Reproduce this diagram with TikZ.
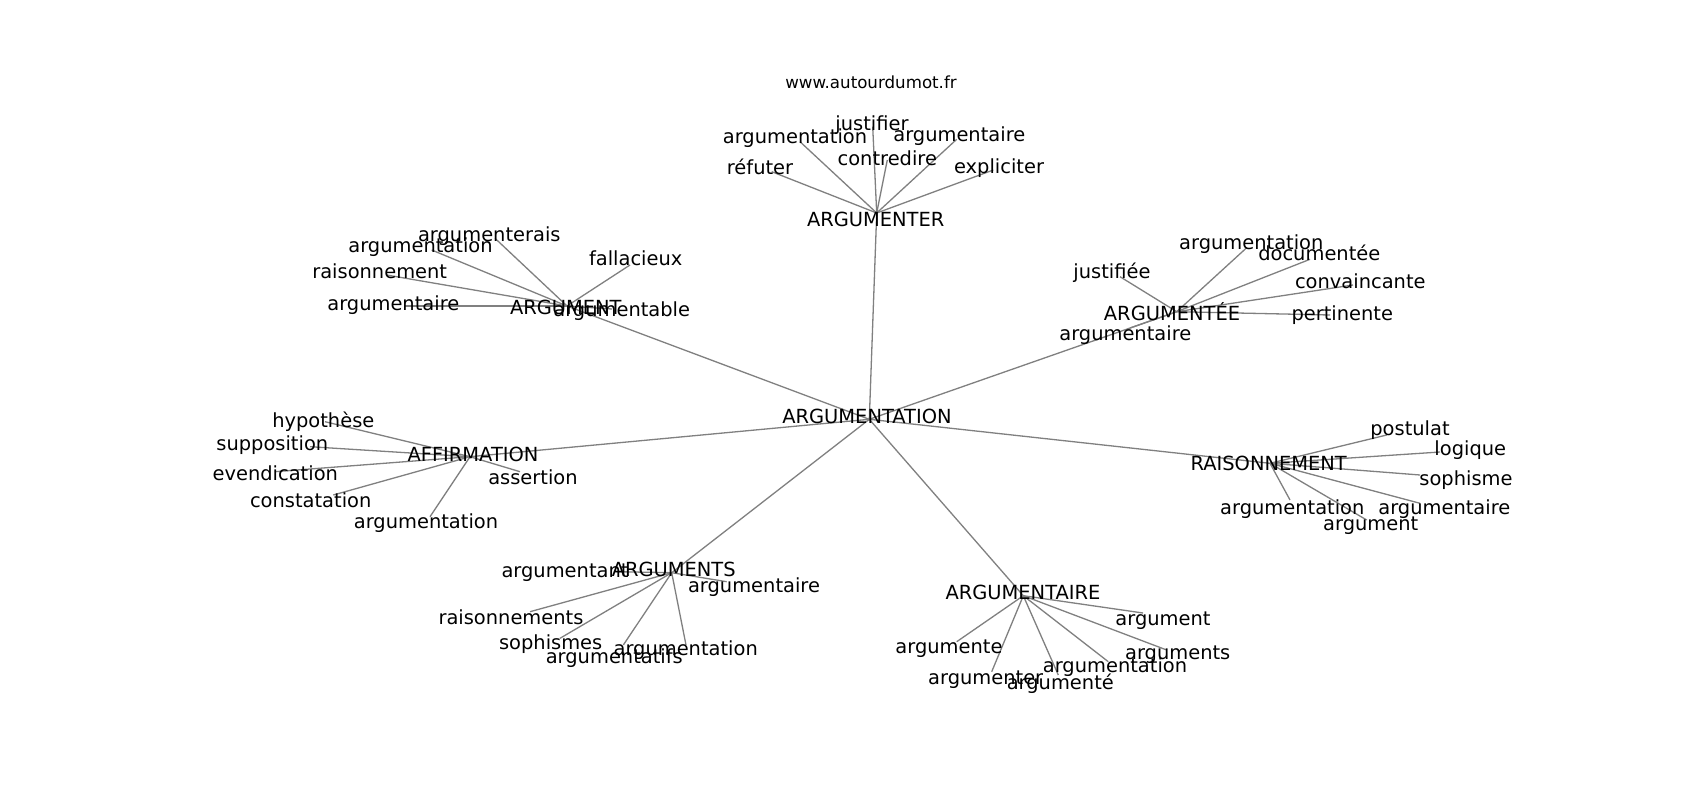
\documentclass[tikz,border=0pt]{standalone}
\usepackage{fontspec}
\setmainfont{DejaVu Sans}
\usetikzlibrary{backgrounds}
\definecolor{edgegray}{RGB}{128,128,128}
\tikzset{
  lbl/.style={inner sep=0pt, anchor=center, text height=0.73em, text depth=0pt,
              yshift=-4pt, font=\fontsize{19.44}{23}\selectfont},
  ttl/.style={inner sep=0pt, anchor=base, font=\fontsize{16.67}{20}\selectfont},
  edge/.style={draw=edgegray, line width=1.3pt}
}
\newcommand{\leafword}[7]{%
  \coordinate (#1) at (#2,#3);
  \node[lbl] (#1t) at (#4,#5) {#6};
  \begin{pgfonlayer}{background}\draw[edge] (#7) -- (#1);\end{pgfonlayer}
}
\begin{document}
\begin{tikzpicture}[x=1pt,y=-1pt]
\useasboundingbox (0,0) rectangle (1700,800);
\begin{pgfonlayer}{background}
\fill[white] (0,0) rectangle (1700,800);
\end{pgfonlayer}

\node[ttl] (title) at (871,88.3) {www.autourdumot.fr};

% hubs
\coordinate (H0) at (869.3,419.3);
\node[lbl] (H0t) at (867,416) {ARGUMENTATION};
\leafword{H1}{876.7}{213}{875.7}{219.3}{ARGUMENTER}{H0}
\leafword{H2}{567}{306}{565.8}{307.3}{ARGUMENT}{H0}
\leafword{H3}{1176.7}{311.7}{1172}{313.3}{ARGUMENTÉE}{H0}
\leafword{H4}{470}{456.7}{473}{454.3}{AFFIRMATION}{H0}
\leafword{H5}{1270}{463.3}{1268.7}{462.7}{RAISONNEMENT}{H0}
\leafword{H6}{671.7}{572.7}{673.7}{569.3}{ARGUMENTS}{H0}
\leafword{H7}{1023.3}{595.7}{1023}{591.7}{ARGUMENTAIRE}{H0}

% ARGUMENTER
\leafword{a1}{872.7}{126.7}{872}{123.3}{justifier}{H1}
\leafword{a2}{800}{141.7}{795}{136}{argumentation}{H1}
\leafword{a3}{956.7}{139.3}{959.3}{134}{argumentaire}{H1}
\leafword{a4}{887.3}{160}{887.3}{158.3}{contredire}{H1}
\leafword{a5}{771.7}{171.7}{760}{166.7}{réfuter}{H1}
\leafword{a6}{993.3}{170}{999}{166}{expliciter}{H1}

% ARGUMENT
\leafword{b1}{495}{238.3}{489.3}{234.3}{argumenterais}{H2}
\leafword{b2}{431.7}{250}{420.5}{245}{argumentation}{H2}
\leafword{b3}{386.7}{275}{379.7}{271}{raisonnement}{H2}
\leafword{b4}{405}{306}{393.3}{303.3}{argumentaire}{H2}
\leafword{b5}{630}{265}{635.7}{258.3}{fallacieux}{H2}
\leafword{b6}{612}{309}{621.7}{309.3}{argumentable}{H2}

% ARGUMENTEE
\leafword{c1}{1246.7}{247.7}{1251.3}{241.7}{argumentation}{H3}
\leafword{c2}{1310}{259.3}{1319.3}{253.3}{documentée}{H3}
\leafword{c3}{1120}{276.7}{1112}{270.7}{justifiée}{H3}
\leafword{c4}{1353}{285}{1360.3}{281.3}{convaincante}{H3}
\leafword{c5}{1330}{315}{1342.3}{312.7}{pertinente}{H3}
\leafword{c6}{1130}{328}{1125.3}{333.3}{argumentaire}{H3}

% AFFIRMATION
\leafword{d1}{325}{421.7}{323.3}{420}{hypothèse}{H4}
\leafword{d2}{310}{446.7}{272.3}{443.3}{supposition}{H4}
\leafword{d3}{275}{471.7}{275.3}{473.3}{evendication}{H4}
\leafword{d4}{333.3}{495}{310.7}{500}{constatation}{H4}
\leafword{d5}{430}{516.7}{426}{520.7}{argumentation}{H4}
\leafword{d6}{520}{471.7}{533}{476.7}{assertion}{H4}

% RAISONNEMENT
\leafword{e1}{1386.7}{435}{1410}{428.3}{postulat}{H5}
\leafword{e2}{1440}{452}{1470.3}{448.3}{logique}{H5}
\leafword{e3}{1420}{475}{1466}{478.3}{sophisme}{H5}
\leafword{e4}{1420}{503.3}{1444.3}{506.7}{argumentaire}{H5}
\leafword{e5}{1290}{500}{1292.3}{506.7}{argumentation}{H5}
\leafword{e6}{1366.7}{520}{1370.7}{523.3}{argument}{H5}

% ARGUMENTS
\leafword{f1}{616.7}{571.7}{565}{570}{argumentant}{H6}
\leafword{f2}{726.7}{581.7}{754}{585}{argumentaire}{H6}
\leafword{f3}{530}{611.7}{511}{616.7}{raisonnements}{H6}
\leafword{f4}{560}{638.3}{550.7}{641.7}{sophismes}{H6}
\leafword{f5}{623.3}{645}{614.3}{656}{argumentatifs}{H6}
\leafword{f6}{686}{645}{685.7}{648.3}{argumentation}{H6}

% ARGUMENTAIRE
\leafword{g1}{1143}{613}{1163}{618.3}{argument}{H7}
\leafword{g2}{956.7}{641.7}{949}{646}{argumente}{H7}
\leafword{g3}{1166.7}{650}{1177.7}{652.3}{arguments}{H7}
\leafword{g4}{1108.3}{661.7}{1115}{665}{argumentation}{H7}
\leafword{g5}{991.7}{671.7}{985.7}{676.7}{argumenter}{H7}
\leafword{g6}{1058.3}{675}{1060.3}{682.3}{argumenté}{H7}
\end{tikzpicture}
\end{document}
